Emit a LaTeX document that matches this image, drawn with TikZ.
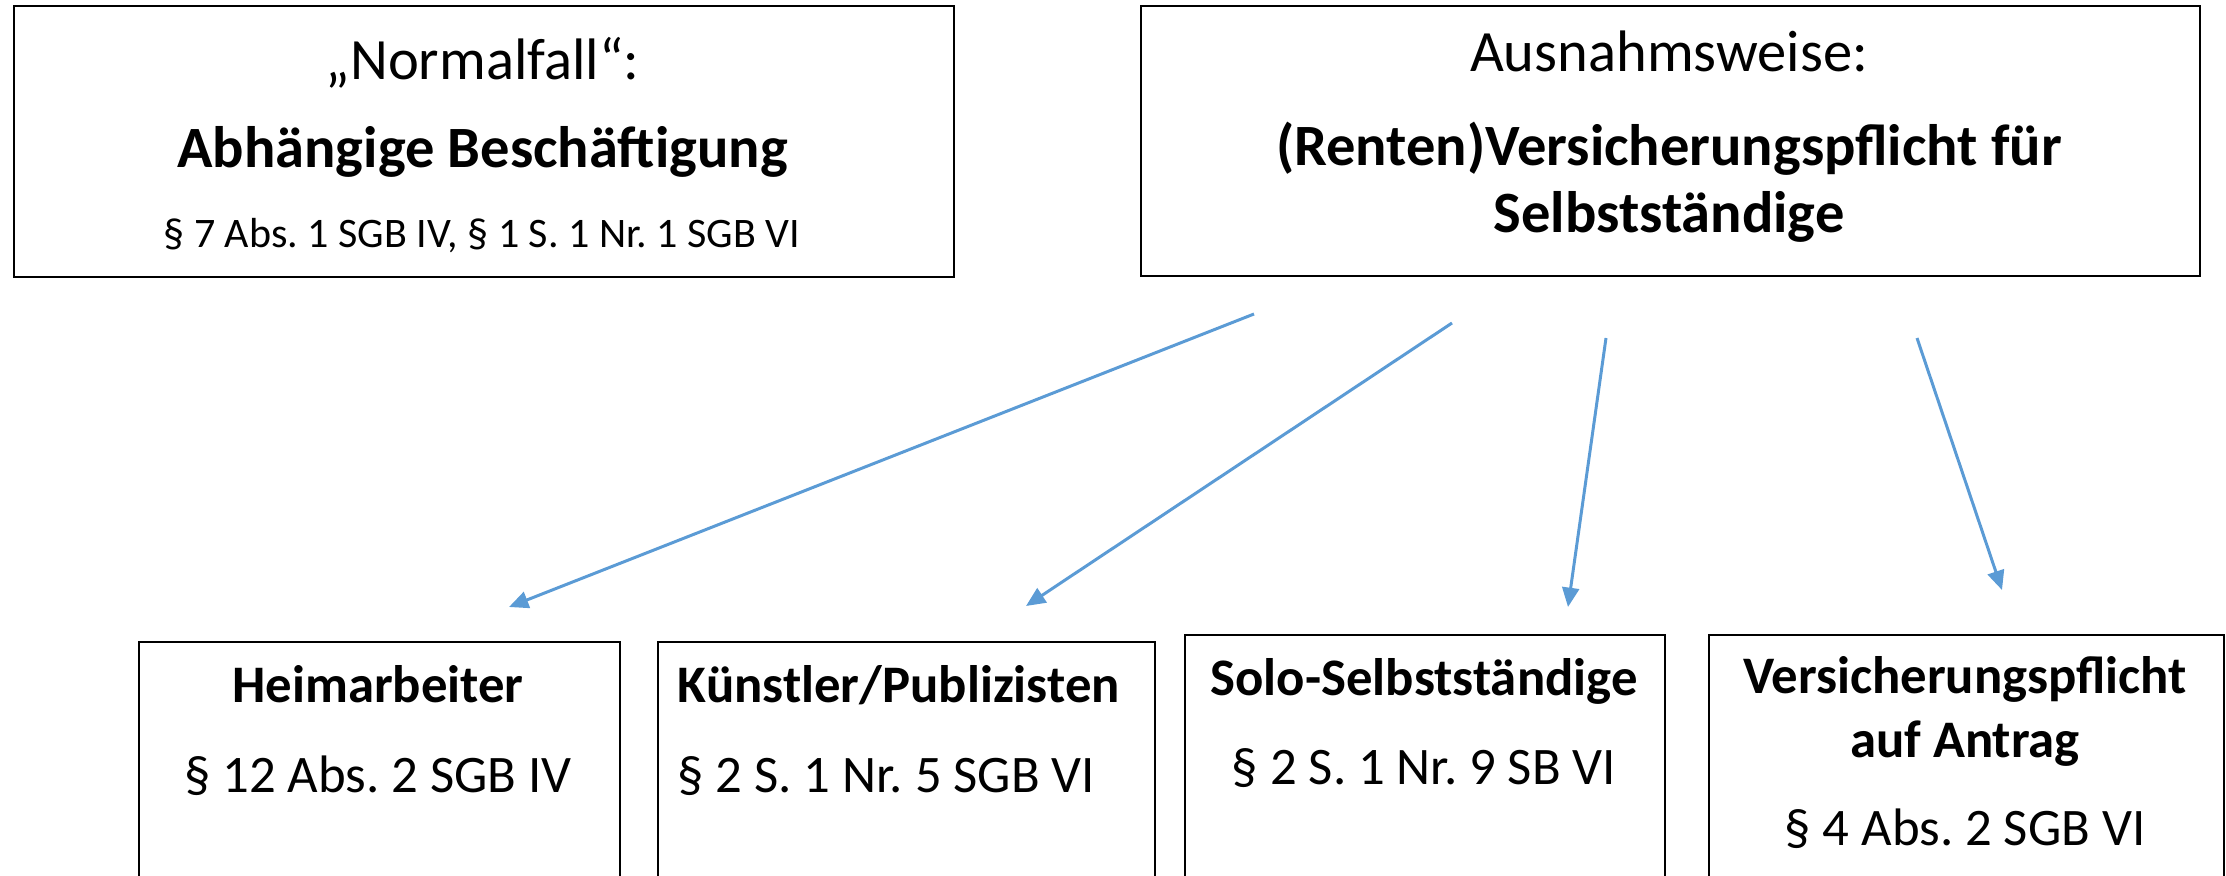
\documentclass[tikz,border=0pt]{standalone}
\usepackage{fontspec}
\setmainfont{Carlito}
\usetikzlibrary{arrows.meta}
\definecolor{arrowblue}{HTML}{5B9BD5}
\frenchspacing
\begin{document}
\begin{tikzpicture}[x=0.01cm,y=-0.01cm,
  box/.style={draw=black,line width=0.6pt,anchor=north west,inner sep=0pt},
  txt/.style={inner sep=0pt,anchor=base},
  txtw/.style={inner sep=0pt,anchor=base west},
  big/.style={font=\fontsize{16.64}{20}\selectfont},
  bigb/.style={font=\fontsize{16.64}{20}\selectfont\bfseries},
  small/.style={font=\fontsize{11.95}{14}\selectfont},
  mid/.style={font=\fontsize{15}{18}\selectfont},
  midb/.style={font=\fontsize{15}{18}\selectfont\bfseries},
  conn/.style={draw=arrowblue,line width=0.85pt,-{Triangle[length=5.5pt,width=4.8pt]}}
]
\useasboundingbox (0,0) rectangle (2226,876);
\clip (0,0) rectangle (2226,876);

% top boxes
\node[box,minimum width=9.39cm,minimum height=2.71cm] (normal) at (13,5) {};
\node[box,minimum width=10.58cm,minimum height=2.70cm] (ausnahme) at (1140,5) {};
% bottom boxes (cut off by the lower edge)
\node[box,minimum width=4.81cm,minimum height=3.4cm] (heim) at (138,641) {};
\node[box,minimum width=4.97cm,minimum height=3.4cm] (kuenstler) at (657,641) {};
\node[box,minimum width=4.80cm,minimum height=3.4cm] (solo) at (1184,634) {};
\node[box,minimum width=5.15cm,minimum height=3.4cm] (antrag) at (1708,634) {};

% texts
\node[txt,big]  (t1a) at (482.5,80)  {„Normalfall“:};
\node[txt,bigb] (t1b) at (482.5,168) {Abhängige Beschäftigung};
\node[txt,small](t1c) at (482,248)   {§ 7 Abs. 1 SGB IV, § 1 S. 1 Nr. 1 SGB VI};

\node[txt,big]  (t2a) at (1669,72)  {Ausnahmsweise:};
\node[txt,bigb] (t2b) at (1669,166) {(Renten)Versicherungspflicht für};
\node[txt,bigb] (t2c) at (1669,233) {Selbstständige};

\node[txt,midb] (t3a) at (378,702) {Heimarbeiter};
\node[txt,mid]  (t3b) at (378,792) {§ 12 Abs. 2 SGB IV};

\node[txtw,midb] (t4a) at (677,702) {Künstler/Publizisten};
\node[txtw,mid]  (t4b) at (677,792) {§ 2 S. 1 Nr. 5 SGB VI};

\node[txt,midb] (t5a) at (1424,695) {Solo-Selbstständige};
\node[txt,mid]  (t5b) at (1424,784) {§ 2 S. 1 Nr. 9 SB VI};

\node[txt,midb] (t6a) at (1965,693) {Versicherungspflicht};
\node[txt,midb] (t6b) at (1965,757) {auf Antrag};
\node[txt,mid]  (t6c) at (1965,845) {§ 4 Abs. 2 SGB VI};

% connectors
\coordinate (a1s) at (1254,314);
\coordinate (a1e) at (509,607);
\coordinate (a2s) at (1452,323);
\coordinate (a2e) at (1026,606);
\coordinate (a3s) at (1606,338);
\coordinate (a3e) at (1568,607);
\coordinate (a4s) at (1917,338);
\coordinate (a4e) at (2002,590);
\draw[conn] (a1s) -- (a1e);
\draw[conn] (a2s) -- (a2e);
\draw[conn] (a3s) -- (a3e);
\draw[conn] (a4s) -- (a4e);
\end{tikzpicture}
\end{document}
